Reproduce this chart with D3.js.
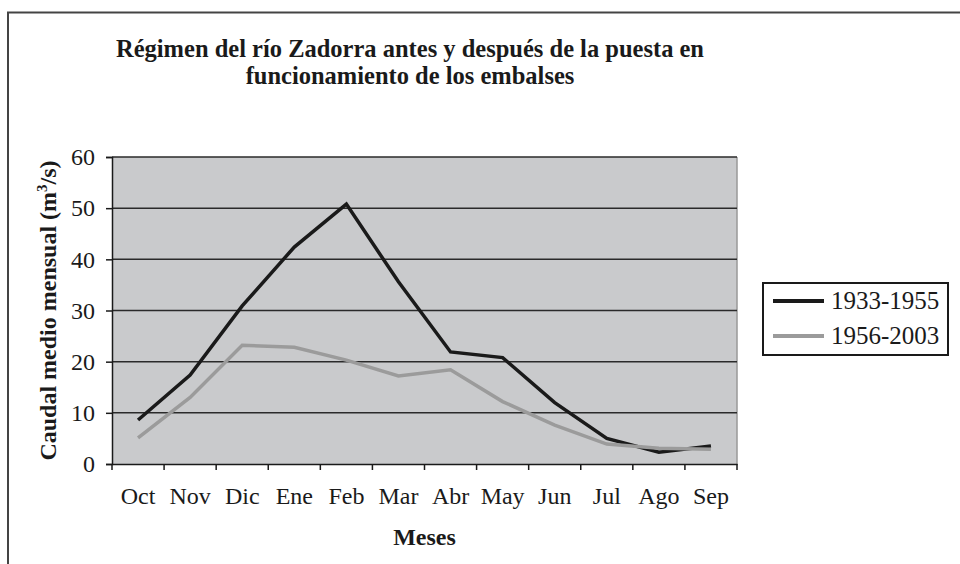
<!DOCTYPE html>
<html>
<head>
<meta charset="utf-8">
<script src="https://cdn.jsdelivr.net/npm/d3@7"></script>
<style>
  body { margin: 0; background: #fff; }
  svg text { font-family: "Liberation Serif", "Times New Roman", serif; fill: #1a1a1a; }
</style>
</head>
<body>
<div id="container"></div>
<script>
// chart data
const months = ["Oct", "Nov", "Dic", "Ene", "Feb", "Mar", "Abr", "May", "Jun", "Jul", "Ago", "Sep"];
const seriesNames = ["1933-1955", "1956-2003"];
const before = [8.6, 17.4, 30.9, 42.4, 50.8, 35.6, 21.9, 20.8, 12.0, 5.0, 2.3, 3.5];
const after = [5.1, 13.0, 23.2, 22.8, 20.3, 17.2, 18.4, 12.2, 7.6, 3.9, 3.1, 2.9];
const yTicks = [0, 10, 20, 30, 40, 50, 60];
const titleLines = ["Régimen del río Zadorra antes y después de la puesta en", "funcionamiento de los embalses"];

// dimensions
const width = 960;
const height = 564;
const marginTop = 157;
const marginLeft = 112;
const plotRight = 737;
const plotBottom = 464;
const colors = ["#1a1a1a", "#9b9b9b"];

const svg = d3.select("#container")
    .append("svg")
    .attr("width", width)
    .attr("height", height);

// outer frame (only top and left edges are visible)
svg.append("path")
    .attr("d", "M8,564 V12.5 H960")
    .attr("fill", "none")
    .attr("stroke", "#444")
    .attr("stroke-width", 2);

const x = d3.scaleBand()
    .domain(months)
    .range([marginLeft, plotRight]);

const y = d3.scaleLinear()
    .domain([0, 60])
    .range([plotBottom, marginTop]);

// plot background
svg.append("rect")
    .attr("x", marginLeft)
    .attr("y", marginTop)
    .attr("width", plotRight - marginLeft)
    .attr("height", plotBottom - marginTop)
    .attr("fill", "#c9cacc")
    .attr("stroke", "none");

// right border of plot
svg.append("line")
    .attr("x1", plotRight).attr("x2", plotRight)
    .attr("y1", marginTop).attr("y2", plotBottom)
    .attr("stroke", "#999")
    .attr("stroke-width", 1.5);

// horizontal grid lines
svg.selectAll("line.grid")
    .data(yTicks.filter(d => d > 0))
    .enter()
    .append("line")
    .attr("class", "grid")
    .attr("x1", marginLeft)
    .attr("x2", plotRight)
    .attr("y1", d => y(d))
    .attr("y2", d => y(d))
    .attr("stroke", "#2a2a2a")
    .attr("stroke-width", 1.5);

// y axis
const yAxis = svg.append("g")
    .attr("transform", `translate(${marginLeft},0)`)
    .call(d3.axisLeft(y).tickValues(yTicks).tickSize(6).tickPadding(11));
yAxis.select(".domain").attr("stroke", "#1a1a1a").attr("stroke-width", 1.5);
yAxis.selectAll(".tick line").attr("stroke", "#1a1a1a").attr("stroke-width", 1.5);
yAxis.selectAll(".tick text")
    .attr("font-size", 24)
    .attr("fill", "#1a1a1a");

// x axis: labels at band centers, ticks between categories
const xAxis = svg.append("g")
    .attr("transform", `translate(0,${plotBottom})`)
    .call(d3.axisBottom(x).tickSize(0).tickPadding(23));
xAxis.select(".domain").attr("stroke", "#1a1a1a").attr("stroke-width", 1.5);
xAxis.selectAll(".tick text")
    .attr("font-size", 24)
    .attr("fill", "#1a1a1a");

const edges = months.map(m => x(m)).concat([x.range()[1]]);
svg.selectAll("line.xtick")
    .data(edges)
    .enter()
    .append("line")
    .attr("class", "xtick")
    .attr("x1", d => d).attr("x2", d => d)
    .attr("y1", plotBottom).attr("y2", plotBottom + 6)
    .attr("stroke", "#1a1a1a")
    .attr("stroke-width", 1.5);

// lines
const line = d3.line()
    .x((d, i) => x(months[i]) + x.bandwidth() / 2)
    .y(d => y(d));

[before, after].forEach(function(values, i) {
    svg.append("path")
        .datum(values)
        .attr("d", line)
        .attr("fill", "none")
        .attr("stroke", colors[i])
        .attr("stroke-width", 3.5)
        .attr("stroke-linejoin", "miter");
});

// title
svg.selectAll("text.title")
    .data(titleLines)
    .enter()
    .append("text")
    .attr("class", "title")
    .attr("x", 410)
    .attr("y", (d, i) => 57 + i * 27)
    .attr("text-anchor", "middle")
    .attr("font-size", 24.5)
    .attr("font-weight", "bold")
    .text(d => d);

// axis titles
svg.append("text")
    .attr("x", (marginLeft + plotRight) / 2)
    .attr("y", 545)
    .attr("text-anchor", "middle")
    .attr("font-size", 24)
    .attr("font-weight", "bold")
    .text("Meses");

const yTitle = svg.append("text")
    .attr("transform", `translate(56,${(marginTop + plotBottom) / 2}) rotate(-90)`)
    .attr("text-anchor", "middle")
    .attr("font-size", 24)
    .attr("font-weight", "bold");
yTitle.append("tspan").text("Caudal medio mensual (m");
yTitle.append("tspan").attr("font-size", 15).attr("dy", -9).text("3");
yTitle.append("tspan").attr("dy", 9).text("/s)");

// legend
const legend = svg.append("g").attr("transform", "translate(763,283)");
legend.append("rect")
    .attr("width", 185)
    .attr("height", 72)
    .attr("fill", "#fff")
    .attr("stroke", "#1a1a1a")
    .attr("stroke-width", 2);

const items = legend.selectAll("g.item")
    .data(seriesNames)
    .enter()
    .append("g")
    .attr("class", "item")
    .attr("transform", (d, i) => `translate(0,${18 + i * 35})`);

items.append("line")
    .attr("x1", 10).attr("x2", 61)
    .attr("y1", 0).attr("y2", 0)
    .attr("stroke", (d, i) => colors[i])
    .attr("stroke-width", 4);

items.append("text")
    .attr("x", 68)
    .attr("y", 8)
    .attr("font-size", 25)
    .text(d => d);
</script>
</body>
</html>
